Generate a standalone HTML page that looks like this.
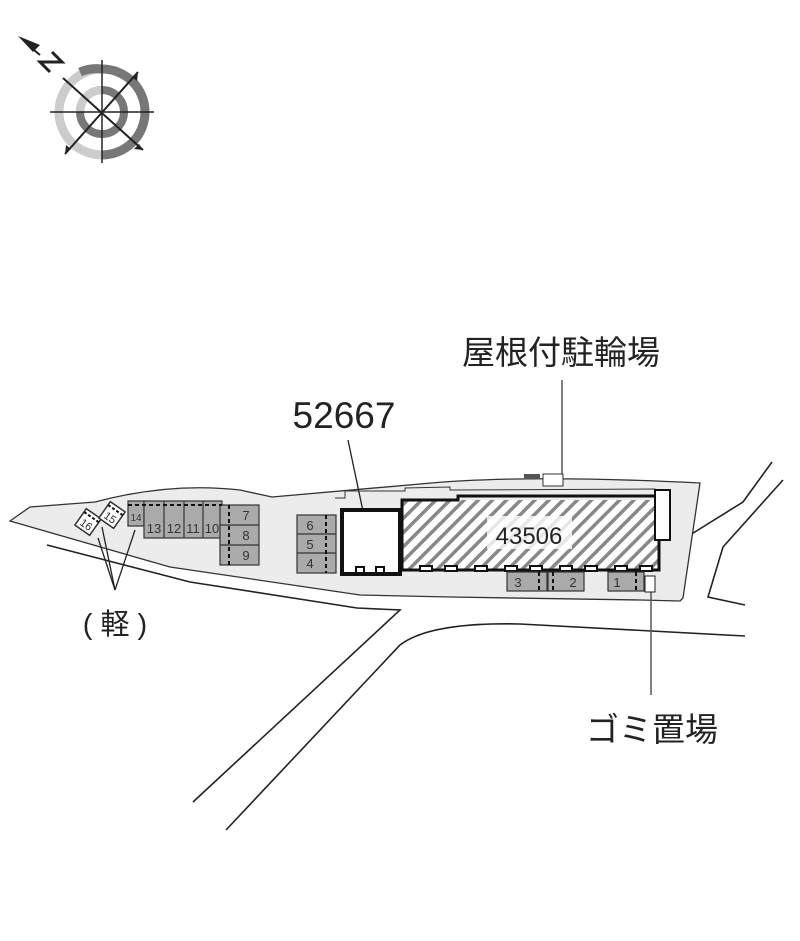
<!DOCTYPE html>
<html><head><meta charset="utf-8"><style>
html,body{margin:0;padding:0;background:#fff;}
svg{display:block;}
text{font-family:"Liberation Sans","Noto Sans CJK JP",sans-serif;}
</style></head><body>
<svg width="800" height="941" viewBox="0 0 800 941" xmlns="http://www.w3.org/2000/svg">
<defs>
<pattern id="h" patternUnits="userSpaceOnUse" width="10" height="10" patternTransform="rotate(45)">
<rect width="10" height="10" fill="#fff"/><rect width="3.5" height="10" fill="#888"/>
</pattern>
</defs>
<g>
<circle cx="102" cy="112" r="43" fill="none" stroke="#ccc" stroke-width="9"/>
<path d="M102,69 A43,43 0 0 1 145,112 A43,43 0 0 1 102,155" fill="none" stroke="#777" stroke-width="9"/>
<path d="M80,72 A43,43 0 0 1 102,69" fill="none" stroke="#777" stroke-width="9"/>
<circle cx="102" cy="112" r="22" fill="none" stroke="#777" stroke-width="8"/>
<path d="M102,90 A22,22 0 0 0 80,112" fill="none" stroke="#ccc" stroke-width="8"/>
<line x1="102" y1="60" x2="102" y2="163" stroke="#222" stroke-width="1.5"/>
<line x1="50" y1="112" x2="154" y2="112" stroke="#222" stroke-width="1.5"/>
<line x1="63" y1="78" x2="143" y2="150" stroke="#222" stroke-width="2"/>
<line x1="138" y1="72" x2="65" y2="154" stroke="#222" stroke-width="2"/>
<polygon points="143,150 134,149 139,144" fill="#222"/>
<polygon points="138,72 137,81 132,77" fill="#222"/>
<polygon points="65,154 66,145 71,149" fill="#222"/>
<polygon points="18,36 40,45 33,52" fill="#222"/>
<line x1="28" y1="45" x2="40" y2="55" stroke="#222" stroke-width="2"/>
<path d="M52,52 L62,62 L40,62 L50,72" fill="none" stroke="#222" stroke-width="3"/>
</g>
<g fill="none" stroke="#222" stroke-width="1.6">
<polyline points="47,545 190,582 357,608 400,610 193,802"/>
<path d="M745,636 L520,624 Q430,622 400,645 L226,830"/>
<polyline points="690,535 743,502 772,462"/>
<polyline points="745,605 708,597 723,547 783,480"/>
</g>
<path d="M10,521 L30,507 L95,502 Q170,482 240,490 L272,497 L420,484 Q520,474 700,483 L683,598 L680,601 L640,600 L450,597 L360,595 L170,567 Z" fill="#ececec" stroke="#333" stroke-width="1.3"/>
<line x1="562" y1="380" x2="562" y2="482" stroke="#555" stroke-width="1.5"/>
<line x1="651" y1="585" x2="651" y2="695" stroke="#555" stroke-width="1.5"/>
<line x1="348" y1="440" x2="368" y2="535" stroke="#222" stroke-width="1.3"/>
<line x1="102" y1="527" x2="115" y2="590" stroke="#222" stroke-width="1.3"/>
<line x1="115" y1="590" x2="135" y2="530" stroke="#222" stroke-width="1.3"/>
<line x1="115" y1="590" x2="98" y2="538" stroke="#222" stroke-width="1.3"/>
<path d="M335,498 L345,498 L345,491 L405,491 L405,488 L450,487 L450,490 L655,489 L655,494" fill="none" stroke="#333" stroke-width="1"/>
<rect x="402" y="500" width="257" height="70" fill="url(#h)"/>
<path d="M402,500 L458,500 L458,496 L659,496 L659,570 L402,570 Z" fill="none" stroke="#111" stroke-width="3"/>
<rect x="487" y="516" width="85" height="33" fill="#fff" opacity="0.8"/>
<text x="529" y="544" font-size="24" text-anchor="middle" fill="#222">43506</text>
<rect x="342" y="510" width="58" height="64" fill="#fff" stroke="#111" stroke-width="4"/>
<rect x="655" y="490" width="15" height="50" fill="#fff" stroke="#111" stroke-width="2"/>
<g fill="#fff" stroke="#111" stroke-width="2">
<rect x="356" y="567" width="8" height="6"/><rect x="376" y="567" width="8" height="6"/>
<rect x="420" y="566" width="12" height="5"/><rect x="445" y="566" width="12" height="5"/>
<rect x="475" y="566" width="12" height="5"/><rect x="505" y="566" width="12" height="5"/>
<rect x="530" y="566" width="12" height="5"/><rect x="560" y="566" width="12" height="5"/>
<rect x="585" y="566" width="12" height="5"/><rect x="615" y="566" width="12" height="5"/>
<rect x="640" y="566" width="12" height="5"/>
</g>
<rect x="543" y="474" width="20" height="12" fill="#fff" stroke="#333"/>
<rect x="524" y="474" width="16" height="5" fill="#555"/>
<rect x="645" y="576" width="10" height="16" fill="#fff" stroke="#222"/>
<g fill="#aaa" stroke="#333" stroke-width="1.2">
<rect x="128" y="501" width="16" height="25"/>
<rect x="144" y="501" width="78" height="37"/>
<line x1="164" y1="501" x2="164" y2="538"/><line x1="184" y1="501" x2="184" y2="538"/><line x1="203" y1="501" x2="203" y2="538"/>
<rect x="220" y="505" width="39" height="60"/>
<line x1="220" y1="525" x2="259" y2="525"/><line x1="220" y1="545" x2="259" y2="545"/>
<rect x="297" y="515" width="39" height="58"/>
<line x1="297" y1="534" x2="336" y2="534"/><line x1="297" y1="553" x2="336" y2="553"/>
<rect x="507" y="572" width="40" height="19"/>
<rect x="548" y="572" width="36" height="19"/>
<rect x="608" y="572" width="36" height="19"/>
</g>
<g stroke="#111" stroke-width="2" stroke-dasharray="4,3">
<line x1="128" y1="505" x2="222" y2="505"/>
<line x1="229" y1="505" x2="229" y2="565"/>
<line x1="326" y1="515" x2="326" y2="573"/>
<line x1="539" y1="572" x2="539" y2="591"/><line x1="553" y1="572" x2="553" y2="591"/>
<line x1="636" y1="572" x2="636" y2="591"/>
</g>
<g font-size="13" fill="#333" text-anchor="middle">
<text x="136" y="521" font-size="10">14</text>
<text x="154" y="533">13</text><text x="174" y="533">12</text><text x="193" y="533">11</text><text x="212" y="533">10</text>
<text x="246" y="520">7</text><text x="246" y="540">8</text><text x="246" y="560">9</text>
<text x="310" y="530">6</text><text x="310" y="549">5</text><text x="310" y="568">4</text>
<text x="518" y="587">3</text><text x="573" y="587">2</text><text x="617" y="587">1</text>
</g>
<g transform="translate(88,522) rotate(35)"><rect x="-9" y="-10" width="18" height="20" fill="#fff" stroke="#333" stroke-width="1.5"/><line x1="-9" y1="-6" x2="9" y2="-6" stroke="#111" stroke-width="2" stroke-dasharray="3,2"/><text x="0" y="7" font-size="11" text-anchor="middle" fill="#333">16</text></g>
<g transform="translate(112,515) rotate(35)"><rect x="-9" y="-10" width="18" height="20" fill="#fff" stroke="#333" stroke-width="1.5"/><line x1="-9" y1="-6" x2="9" y2="-6" stroke="#111" stroke-width="2" stroke-dasharray="3,2"/><text x="0" y="7" font-size="11" text-anchor="middle" fill="#333">15</text></g>
<text x="344" y="428" font-size="37" text-anchor="middle" fill="#222">52667</text>
<text x="561" y="364" font-size="33" text-anchor="middle" fill="#222">屋根付駐輪場</text>
<text x="652" y="741" font-size="33" text-anchor="middle" fill="#222">ゴミ置場</text>
<text x="115" y="634" font-size="29" text-anchor="middle" fill="#222">( 軽 )</text>
</svg>
</body></html>
